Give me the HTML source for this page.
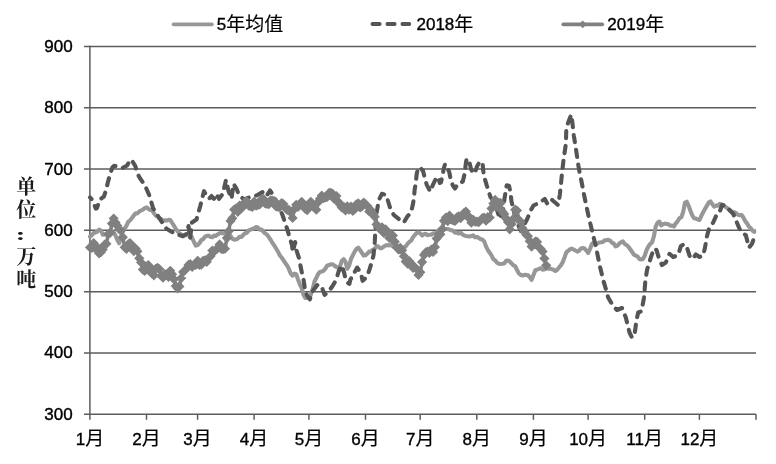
<!DOCTYPE html>
<html lang="zh"><head><meta charset="utf-8"><title>chart</title>
<style>html,body{margin:0;padding:0;background:#fff}svg{display:block;will-change:transform;filter:blur(0.3px)}</style></head>
<body>
<svg width="776" height="464" viewBox="0 0 776 464">
<rect width="776" height="464" fill="#ffffff"/>
<g stroke="#5c5c5c" stroke-width="1.5" fill="none">
<line x1="84" y1="46.4" x2="756.0" y2="46.4"/>
<line x1="84" y1="107.8" x2="756.0" y2="107.8"/>
<line x1="84" y1="169.1" x2="756.0" y2="169.1"/>
<line x1="84" y1="230.3" x2="756.0" y2="230.3"/>
<line x1="84" y1="291.7" x2="756.0" y2="291.7"/>
<line x1="84" y1="353.0" x2="756.0" y2="353.0"/>
<line x1="84" y1="414.3" x2="756.0" y2="414.3"/>
<line x1="89.9" y1="45.7" x2="89.9" y2="414.3"/>
<line x1="89.9" y1="414.3" x2="89.9" y2="419.8"/>
<line x1="146.5" y1="414.3" x2="146.5" y2="419.8"/>
<line x1="197.6" y1="414.3" x2="197.6" y2="419.8"/>
<line x1="254.1" y1="414.3" x2="254.1" y2="419.8"/>
<line x1="308.9" y1="414.3" x2="308.9" y2="419.8"/>
<line x1="365.5" y1="414.3" x2="365.5" y2="419.8"/>
<line x1="420.2" y1="414.3" x2="420.2" y2="419.8"/>
<line x1="476.8" y1="414.3" x2="476.8" y2="419.8"/>
<line x1="533.4" y1="414.3" x2="533.4" y2="419.8"/>
<line x1="588.1" y1="414.3" x2="588.1" y2="419.8"/>
<line x1="644.7" y1="414.3" x2="644.7" y2="419.8"/>
<line x1="699.4" y1="414.3" x2="699.4" y2="419.8"/>
<line x1="756.0" y1="414.3" x2="756.0" y2="419.8"/>
</g>
<g font-family="Liberation Sans, sans-serif" font-size="17px" fill="#000" stroke="#000" stroke-width="0.4" text-anchor="end">
<text x="72.7" y="51.8">900</text>
<text x="72.7" y="113.2">800</text>
<text x="72.7" y="174.5">700</text>
<text x="72.7" y="235.8">600</text>
<text x="72.7" y="297.1">500</text>
<text x="72.7" y="358.4">400</text>
<text x="72.7" y="419.7">300</text>
</g>
<g fill="#000" stroke="#000" stroke-width="0.35" text-anchor="middle">
<text x="89.9" y="444.9" font-family="Liberation Sans, Noto Sans CJK SC, sans-serif" font-size="17px">1<tspan dy="0.4" stroke-width="0.15" font-size="19px" font-family="Noto Sans CJK SC, sans-serif">月</tspan></text>
<text x="146.5" y="444.9" font-family="Liberation Sans, Noto Sans CJK SC, sans-serif" font-size="17px">2<tspan dy="0.4" stroke-width="0.15" font-size="19px" font-family="Noto Sans CJK SC, sans-serif">月</tspan></text>
<text x="197.6" y="444.9" font-family="Liberation Sans, Noto Sans CJK SC, sans-serif" font-size="17px">3<tspan dy="0.4" stroke-width="0.15" font-size="19px" font-family="Noto Sans CJK SC, sans-serif">月</tspan></text>
<text x="254.1" y="444.9" font-family="Liberation Sans, Noto Sans CJK SC, sans-serif" font-size="17px">4<tspan dy="0.4" stroke-width="0.15" font-size="19px" font-family="Noto Sans CJK SC, sans-serif">月</tspan></text>
<text x="308.9" y="444.9" font-family="Liberation Sans, Noto Sans CJK SC, sans-serif" font-size="17px">5<tspan dy="0.4" stroke-width="0.15" font-size="19px" font-family="Noto Sans CJK SC, sans-serif">月</tspan></text>
<text x="365.5" y="444.9" font-family="Liberation Sans, Noto Sans CJK SC, sans-serif" font-size="17px">6<tspan dy="0.4" stroke-width="0.15" font-size="19px" font-family="Noto Sans CJK SC, sans-serif">月</tspan></text>
<text x="420.2" y="444.9" font-family="Liberation Sans, Noto Sans CJK SC, sans-serif" font-size="17px">7<tspan dy="0.4" stroke-width="0.15" font-size="19px" font-family="Noto Sans CJK SC, sans-serif">月</tspan></text>
<text x="476.8" y="444.9" font-family="Liberation Sans, Noto Sans CJK SC, sans-serif" font-size="17px">8<tspan dy="0.4" stroke-width="0.15" font-size="19px" font-family="Noto Sans CJK SC, sans-serif">月</tspan></text>
<text x="533.4" y="444.9" font-family="Liberation Sans, Noto Sans CJK SC, sans-serif" font-size="17px">9<tspan dy="0.4" stroke-width="0.15" font-size="19px" font-family="Noto Sans CJK SC, sans-serif">月</tspan></text>
<text x="588.1" y="444.9" font-family="Liberation Sans, Noto Sans CJK SC, sans-serif" font-size="17px">10<tspan dy="0.4" stroke-width="0.15" font-size="19px" font-family="Noto Sans CJK SC, sans-serif">月</tspan></text>
<text x="644.7" y="444.9" font-family="Liberation Sans, Noto Sans CJK SC, sans-serif" font-size="17px">11<tspan dy="0.4" stroke-width="0.15" font-size="19px" font-family="Noto Sans CJK SC, sans-serif">月</tspan></text>
<text x="699.4" y="444.9" font-family="Liberation Sans, Noto Sans CJK SC, sans-serif" font-size="17px">12<tspan dy="0.4" stroke-width="0.15" font-size="19px" font-family="Noto Sans CJK SC, sans-serif">月</tspan></text>
</g>
<polyline points="90.0,236.6 91.8,235.1 93.6,233.0 95.5,232.5 97.3,231.6 99.1,229.5 100.9,230.5 102.8,234.7 104.6,234.4 106.4,234.0 108.2,234.8 110.1,232.9 111.9,232.9 113.7,232.4 115.5,235.5 117.4,240.0 119.2,243.3 121.0,237.1 122.8,231.5 124.7,228.6 126.5,225.6 128.3,221.6 130.1,220.3 132.0,218.0 133.8,215.4 135.6,213.3 137.4,213.4 139.3,211.4 141.1,210.5 142.9,209.6 144.7,208.2 146.6,207.4 148.4,208.9 150.2,210.1 152.0,209.7 153.9,213.2 155.7,215.6 157.5,216.4 159.3,218.4 161.2,219.0 163.0,220.8 164.8,220.3 166.6,220.6 168.5,219.8 170.3,220.1 172.1,222.8 173.9,225.6 175.8,228.8 177.6,231.4 179.4,233.4 181.2,234.3 183.1,235.7 184.9,235.3 186.7,235.2 188.5,234.4 190.4,234.8 192.2,238.1 194.0,242.0 195.8,245.6 197.7,245.0 199.5,243.1 201.3,240.1 203.1,239.2 205.0,236.7 206.8,235.9 208.6,235.5 210.4,236.9 212.3,237.1 214.1,235.5 215.9,235.9 217.7,234.4 219.6,233.2 221.4,232.9 223.2,233.2 225.0,233.7 226.9,233.1 228.7,235.1 230.5,235.7 232.3,238.7 234.2,239.6 236.0,239.5 237.8,238.6 239.6,236.8 241.5,236.9 243.3,234.9 245.1,233.3 246.9,232.8 248.8,230.3 250.6,229.6 252.4,228.9 254.2,228.3 256.1,227.1 257.9,227.5 259.7,229.6 261.5,229.5 263.4,231.7 265.2,233.4 267.0,234.6 268.8,237.2 270.7,240.0 272.5,243.0 274.3,245.6 276.1,248.5 278.0,251.7 279.8,255.3 281.6,257.5 283.4,260.1 285.3,263.1 287.1,265.5 288.9,268.9 290.7,273.4 292.6,275.7 294.4,273.6 296.2,274.2 298.0,279.5 299.9,284.3 301.7,288.1 303.5,294.7 305.3,298.0 307.2,297.7 309.0,297.7 310.8,294.8 312.6,289.4 314.5,281.5 316.3,278.0 318.1,274.1 319.9,271.9 321.8,271.6 323.6,270.7 325.4,268.6 327.2,265.7 329.1,265.0 330.9,264.3 332.7,264.2 334.5,265.7 336.4,267.0 338.2,267.8 340.0,266.4 341.8,260.8 343.7,259.2 345.5,261.8 347.3,268.7 349.1,265.7 351.0,259.0 352.8,255.3 354.6,251.9 356.4,248.9 358.3,247.6 360.1,250.1 361.9,252.9 363.7,255.6 365.6,255.3 367.4,253.6 369.2,251.6 371.0,251.4 372.9,249.6 374.7,248.8 376.5,246.0 378.3,246.5 380.2,248.3 382.0,248.0 383.8,246.6 385.6,245.5 387.5,245.0 389.3,245.4 391.1,244.7 392.9,246.3 394.8,246.8 396.6,245.9 398.4,246.3 400.2,247.5 402.1,247.4 403.9,247.9 405.7,246.4 407.5,243.8 409.4,241.9 411.2,240.6 413.0,237.3 414.8,235.1 416.7,232.9 418.5,232.4 420.3,233.5 422.1,235.5 424.0,234.2 425.8,233.7 427.6,235.2 429.4,234.8 431.3,234.8 433.1,233.4 434.9,233.5 436.7,232.7 438.6,230.6 440.4,230.8 442.2,230.3 444.0,229.4 445.9,229.0 447.7,229.0 449.5,229.6 451.3,230.2 453.2,230.8 455.0,232.7 456.8,232.4 458.6,233.6 460.5,232.5 462.3,234.3 464.1,235.4 465.9,236.0 467.8,236.2 469.6,236.5 471.4,236.1 473.2,235.3 475.1,237.3 476.9,236.9 478.7,237.8 480.5,239.2 482.4,239.6 484.2,241.4 486.0,246.4 487.8,250.0 489.7,252.7 491.5,255.3 493.3,259.1 495.1,260.3 497.0,262.7 498.8,263.8 500.6,264.1 502.4,263.8 504.3,263.4 506.1,260.8 507.9,260.5 509.7,261.6 511.6,263.4 513.4,265.4 515.2,266.1 517.0,270.1 518.9,273.5 520.7,274.9 522.5,275.4 524.3,274.9 526.2,274.9 528.0,275.2 529.8,277.3 531.6,279.8 533.5,274.9 535.3,270.2 537.1,269.6 538.9,268.9 540.8,268.1 542.6,269.6 544.4,269.4 546.2,268.0 548.1,268.8 549.9,268.5 551.7,269.1 553.5,269.7 555.4,270.9 557.2,269.8 559.0,267.5 560.8,265.4 562.7,262.2 564.5,257.5 566.3,252.4 568.1,250.9 570.0,249.2 571.8,248.6 573.6,249.5 575.4,250.5 577.3,251.6 579.1,250.6 580.9,248.6 582.7,248.1 584.6,248.6 586.4,250.6 588.2,252.9 590.0,249.0 591.9,244.0 593.7,242.7 595.5,243.7 597.3,243.6 599.2,242.5 601.0,242.3 602.8,241.9 604.6,240.2 606.5,240.3 608.3,239.8 610.1,240.6 611.9,242.6 613.8,243.6 615.6,246.5 617.4,245.7 619.2,243.4 621.1,242.3 622.9,241.3 624.7,243.9 626.5,245.0 628.4,246.8 630.2,249.3 632.0,251.8 633.8,254.5 635.7,255.7 637.5,256.4 639.3,258.9 641.1,259.4 643.0,258.9 644.8,255.5 646.6,250.0 648.4,246.5 650.3,243.8 652.1,242.4 653.9,236.2 655.7,226.7 657.6,222.7 659.4,221.6 661.2,225.4 663.0,224.2 664.9,223.6 666.7,223.9 668.5,224.3 670.3,225.8 672.2,225.5 674.0,226.5 675.8,223.4 677.6,221.3 679.5,218.1 681.3,217.4 683.1,212.3 684.9,202.8 686.8,201.7 688.6,205.8 690.4,210.8 692.2,215.2 694.1,218.3 695.9,218.6 697.7,219.5 699.5,219.9 701.4,215.8 703.2,212.3 705.0,208.9 706.8,205.7 708.7,202.6 710.5,201.5 712.3,204.1 714.1,206.7 716.0,205.6 717.8,205.6 719.6,203.9 721.4,204.3 723.3,205.3 725.1,206.6 726.9,207.9 728.7,209.3 730.6,210.9 732.4,212.4 734.2,212.2 736.0,213.1 737.9,214.6 739.7,215.3 741.5,214.9 743.3,217.3 745.2,221.1 747.0,223.4 748.8,226.4 750.6,228.1 752.5,230.6 754.3,231.9" fill="none" stroke="#979797" stroke-width="4.1" stroke-linejoin="round" stroke-linecap="round"/>
<polyline points="90.0,197.4 92.2,199.7 94.0,204.0 95.8,208.6 96.9,208.2 99.7,199.7 103.9,196.6 106.5,188.8 107.8,182.5 110.2,173.8 112.4,167.5 114.0,165.8 119.4,166.8 122.5,167.9 127.1,165.5 128.5,163.0 130.3,159.6 132.6,161.6 135.4,166.3 137.2,173.3 140.3,178.7 144.7,184.9 148.9,194.3 150.4,198.9 153.1,208.2 155.9,212.9 160.5,219.9 166.5,228.8 175.2,233.8 182.8,236.2 186.5,233.8 188.5,226.0 190.0,238.8 192.0,222.5 196.5,219.5 200.2,206.2 204.0,191.2 206.5,196.0 209.0,198.8 211.5,196.0 214.0,198.8 216.5,193.8 219.0,198.8 222.8,193.8 226.0,180.0 228.5,191.0 231.5,198.8 233.5,183.8 236.5,188.8 239.0,195.0 244.0,199.5 250.0,197.0 256.5,195.5 262.8,192.0 266.5,196.0 270.0,190.5 273.8,196.2 278.0,205.0 282.5,215.0 286.2,226.0 288.9,235.0 292.0,245.1 292.8,252.1 294.0,247.0 295.1,242.0 296.6,250.5 299.0,258.3 300.5,266.0 302.1,273.8 303.6,280.0 305.2,290.9 307.5,296.3 309.8,299.4 312.2,291.7 317.6,284.7 321.5,286.2 324.6,294.8 326.5,293.5 328.5,291.7 332.4,286.2 336.2,280.0 338.6,271.5 341.7,265.3 344.0,272.3 345.6,279.3 347.5,282.5 349.4,283.9 350.2,280.0 354.1,273.0 357.2,267.6 358.8,270.0 361.1,273.8 362.6,280.8 365.0,278.5 367.3,276.1 369.6,269.2 372.0,261.4 373.5,255.2 374.3,247.4 374.8,241.2 375.1,235.0 375.6,226.0 376.2,215.0 378.8,200.0 382.0,193.8 386.2,195.0 390.0,207.5 393.8,215.0 400.0,220.0 403.8,222.5 407.5,216.2 409.7,214.0 411.2,211.8 412.8,204.8 414.0,197.8 414.6,190.0 415.9,182.3 416.6,174.5 418.2,168.0 420.0,167.5 422.9,170.6 424.9,178.4 426.7,184.6 430.2,191.6 433.0,184.6 436.8,176.8 438.5,178.0 439.8,183.0 441.0,182.3 442.7,174.5 443.8,168.3 445.1,164.0 446.5,166.0 449.3,172.2 450.8,180.0 453.1,186.1 455.0,188.5 457.8,183.8 460.5,182.5 462.8,181.5 464.8,173.0 465.6,165.2 466.6,158.7 468.0,160.0 469.4,162.0 471.0,169.0 471.8,170.6 473.3,173.5 474.9,173.0 477.2,166.0 479.0,163.0 481.1,162.0 482.6,162.0 483.1,169.8 484.2,176.8 486.5,184.6 488.5,190.8 490.4,197.0 493.5,201.0 497.0,210.0 499.8,218.8 503.2,209.0 504.4,199.3 505.9,190.0 506.7,185.4 509.0,185.7 510.6,193.0 511.4,200.9 512.9,207.0 516.0,220.0 521.0,231.2 523.5,226.0 527.2,219.0 531.0,210.0 533.5,205.5 539.8,202.5 544.8,199.0 547.2,203.5 551.0,199.0 554.5,202.0 558.0,205.0 559.8,195.0 561.0,184.0 562.0,173.3 563.6,159.3 565.9,143.8 566.3,128.3 568.2,122.5 571.2,114.6 572.3,122.1 573.9,136.0 576.1,150.0 578.4,165.6 580.0,174.9 581.2,180.0 584.5,197.0 588.5,216.0 592.2,231.5 596.0,247.0 599.8,266.0 603.5,281.0 605.8,288.8 608.2,297.5 613.2,306.2 617.0,310.0 622.0,308.0 625.8,317.5 629.5,332.5 632.0,337.5 634.5,335.0 636.5,320.0 638.2,312.5 641.5,311.2 644.0,297.5 645.2,282.5 647.0,270.0 650.8,257.5 654.0,248.5 656.5,250.0 659.5,260.0 662.0,265.0 665.8,262.5 669.5,253.8 673.2,257.0 678.2,255.0 680.8,246.2 684.0,244.0 686.8,247.0 689.8,256.5 692.5,259.0 695.8,254.5 699.5,257.0 703.2,255.5 705.0,247.5 707.0,236.0 709.5,227.0 713.2,222.5 717.0,213.8 719.5,212.5 722.0,205.0 725.8,205.8 729.5,210.0 733.2,213.8 735.8,220.0 739.5,228.8 743.2,233.8 745.8,235.0 749.0,247.5 752.0,243.8 754.5,236.5 755.8,239.0" fill="none" stroke="#555555" stroke-width="4.1" stroke-linejoin="round" stroke-linecap="round" stroke-dasharray="7.3 7.7" stroke-dashoffset="5"/>
<polyline points="90.0,247.4 91.8,247.9 93.6,243.1 95.5,248.7 97.3,247.4 99.1,253.3 100.9,252.2 102.8,249.5 104.6,244.7 106.4,243.8 108.2,234.1 110.1,232.8 111.9,223.5 113.7,218.5 115.5,222.5 117.4,225.8 119.2,229.2 121.0,230.6 122.8,237.3 124.7,247.3 126.5,248.9 128.3,244.2 130.1,243.2 132.0,245.1 133.8,251.1 135.6,248.6 137.4,251.3 139.3,258.3 141.1,262.4 142.9,269.6 144.7,270.9 146.6,266.3 148.4,265.2 150.2,267.3 152.0,273.7 153.9,275.3 155.7,268.8 157.5,267.8 159.3,269.1 161.2,275.9 163.0,277.6 164.8,274.1 166.6,274.4 168.5,277.0 170.3,270.8 172.1,274.3 173.9,279.2 175.8,286.1 177.6,288.3 179.4,286.4 181.2,278.1 183.1,272.1 184.9,270.3 186.7,268.4 188.5,264.9 190.4,264.2 192.2,267.0 194.0,265.2 195.8,264.9 197.7,260.8 199.5,265.0 201.3,264.7 203.1,260.8 205.0,260.3 206.8,261.8 208.6,258.2 210.4,256.3 212.3,250.5 214.1,251.6 215.9,249.7 217.7,248.3 219.6,244.4 221.4,249.0 223.2,249.1 225.0,248.7 226.9,238.1 228.7,231.2 230.5,221.0 232.3,218.2 234.2,209.6 236.0,208.7 237.8,211.8 239.6,205.5 241.5,208.3 243.3,206.5 245.1,201.9 246.9,201.5 248.8,205.7 250.6,206.2 252.4,206.8 254.2,201.7 256.1,205.7 257.9,205.0 259.7,204.4 261.5,199.3 263.4,198.9 265.2,203.5 267.0,203.8 268.8,204.1 270.7,200.3 272.5,200.7 274.3,201.1 276.1,206.4 278.0,206.8 279.8,207.1 281.6,203.1 283.4,204.0 285.3,207.9 287.1,209.8 288.9,209.8 290.7,212.3 292.6,217.9 294.4,209.0 296.2,204.8 298.0,207.0 299.9,203.9 301.7,201.8 303.5,203.5 305.3,208.8 307.2,210.1 309.0,203.6 310.8,201.8 312.6,206.1 314.5,208.0 316.3,209.7 318.1,202.3 319.9,198.8 321.8,195.6 323.6,198.1 325.4,197.4 327.2,196.9 329.1,192.9 330.9,192.8 332.7,193.9 334.5,199.2 336.4,196.0 338.2,201.7 340.0,204.6 341.8,207.5 343.7,206.8 345.5,210.4 347.3,206.3 349.1,209.6 351.0,206.6 352.8,210.8 354.6,209.5 356.4,204.4 358.3,203.3 360.1,207.5 361.9,206.5 363.7,202.5 365.6,204.2 367.4,206.1 369.2,211.4 371.0,210.3 372.9,213.5 374.7,216.7 376.5,224.5 378.3,226.6 380.2,229.5 382.0,227.3 383.8,232.9 385.6,229.4 387.5,231.9 389.3,237.9 391.1,234.1 392.9,235.6 394.8,241.7 396.6,247.5 398.4,249.3 400.2,247.8 402.1,250.3 403.9,256.2 405.7,261.6 407.5,263.6 409.4,261.2 411.2,263.7 413.0,267.8 414.8,267.2 416.7,269.1 418.5,274.9 420.3,272.3 422.1,262.1 424.0,255.1 425.8,252.4 427.6,251.5 429.4,252.8 431.3,249.5 433.1,251.9 434.9,247.1 436.7,238.6 438.6,234.4 440.4,234.3 442.2,229.1 444.0,220.8 445.9,217.5 447.7,221.1 449.5,215.6 451.3,219.5 453.2,220.3 455.0,220.9 456.8,217.4 458.6,216.3 460.5,218.2 462.3,215.5 464.1,212.8 465.9,211.6 467.8,215.4 469.6,218.7 471.4,222.7 473.2,219.8 475.1,221.7 476.9,221.6 478.7,222.2 480.5,220.0 482.4,218.2 484.2,217.7 486.0,220.7 487.8,217.0 489.7,217.6 491.5,208.4 493.3,203.5 495.1,199.9 497.0,206.7 498.8,202.8 500.6,203.1 502.4,211.6 504.3,214.1 506.1,218.4 507.9,222.0 509.7,229.3 511.6,224.0 513.4,218.8 515.2,209.7 517.0,210.5 518.9,219.8 520.7,221.9 522.5,228.2 524.3,231.4 526.2,234.7 528.0,236.2 529.8,241.2 531.6,246.6 533.5,244.6 535.3,241.5 537.1,241.9 538.9,247.2 540.8,249.1 542.6,251.4 544.4,258.5 546.2,265.3" fill="none" stroke="#808080" stroke-width="3.6" stroke-linejoin="round" stroke-linecap="round"/>
<path d="M90.0 242.3l5.1 5.1l-5.1 5.1l-5.1 -5.1zM91.8 242.8l5.1 5.1l-5.1 5.1l-5.1 -5.1zM93.6 238.0l5.1 5.1l-5.1 5.1l-5.1 -5.1zM95.5 243.6l5.1 5.1l-5.1 5.1l-5.1 -5.1zM97.3 242.3l5.1 5.1l-5.1 5.1l-5.1 -5.1zM99.1 248.2l5.1 5.1l-5.1 5.1l-5.1 -5.1zM100.9 247.1l5.1 5.1l-5.1 5.1l-5.1 -5.1zM102.8 244.4l5.1 5.1l-5.1 5.1l-5.1 -5.1zM104.6 239.6l5.1 5.1l-5.1 5.1l-5.1 -5.1zM106.4 238.7l5.1 5.1l-5.1 5.1l-5.1 -5.1zM108.2 229.0l5.1 5.1l-5.1 5.1l-5.1 -5.1zM110.1 227.7l5.1 5.1l-5.1 5.1l-5.1 -5.1zM111.9 218.4l5.1 5.1l-5.1 5.1l-5.1 -5.1zM113.7 213.4l5.1 5.1l-5.1 5.1l-5.1 -5.1zM115.5 217.4l5.1 5.1l-5.1 5.1l-5.1 -5.1zM117.4 220.7l5.1 5.1l-5.1 5.1l-5.1 -5.1zM119.2 224.1l5.1 5.1l-5.1 5.1l-5.1 -5.1zM121.0 225.5l5.1 5.1l-5.1 5.1l-5.1 -5.1zM122.8 232.2l5.1 5.1l-5.1 5.1l-5.1 -5.1zM124.7 242.2l5.1 5.1l-5.1 5.1l-5.1 -5.1zM126.5 243.8l5.1 5.1l-5.1 5.1l-5.1 -5.1zM128.3 239.1l5.1 5.1l-5.1 5.1l-5.1 -5.1zM130.1 238.1l5.1 5.1l-5.1 5.1l-5.1 -5.1zM132.0 240.0l5.1 5.1l-5.1 5.1l-5.1 -5.1zM133.8 246.0l5.1 5.1l-5.1 5.1l-5.1 -5.1zM135.6 243.5l5.1 5.1l-5.1 5.1l-5.1 -5.1zM137.4 246.2l5.1 5.1l-5.1 5.1l-5.1 -5.1zM139.3 253.2l5.1 5.1l-5.1 5.1l-5.1 -5.1zM141.1 257.3l5.1 5.1l-5.1 5.1l-5.1 -5.1zM142.9 264.5l5.1 5.1l-5.1 5.1l-5.1 -5.1zM144.7 265.8l5.1 5.1l-5.1 5.1l-5.1 -5.1zM146.6 261.2l5.1 5.1l-5.1 5.1l-5.1 -5.1zM148.4 260.1l5.1 5.1l-5.1 5.1l-5.1 -5.1zM150.2 262.2l5.1 5.1l-5.1 5.1l-5.1 -5.1zM152.0 268.6l5.1 5.1l-5.1 5.1l-5.1 -5.1zM153.9 270.2l5.1 5.1l-5.1 5.1l-5.1 -5.1zM155.7 263.7l5.1 5.1l-5.1 5.1l-5.1 -5.1zM157.5 262.7l5.1 5.1l-5.1 5.1l-5.1 -5.1zM159.3 264.0l5.1 5.1l-5.1 5.1l-5.1 -5.1zM161.2 270.8l5.1 5.1l-5.1 5.1l-5.1 -5.1zM163.0 272.5l5.1 5.1l-5.1 5.1l-5.1 -5.1zM164.8 269.0l5.1 5.1l-5.1 5.1l-5.1 -5.1zM166.6 269.3l5.1 5.1l-5.1 5.1l-5.1 -5.1zM168.5 271.9l5.1 5.1l-5.1 5.1l-5.1 -5.1zM170.3 265.7l5.1 5.1l-5.1 5.1l-5.1 -5.1zM172.1 269.2l5.1 5.1l-5.1 5.1l-5.1 -5.1zM173.9 274.1l5.1 5.1l-5.1 5.1l-5.1 -5.1zM175.8 281.0l5.1 5.1l-5.1 5.1l-5.1 -5.1zM177.6 283.2l5.1 5.1l-5.1 5.1l-5.1 -5.1zM179.4 281.3l5.1 5.1l-5.1 5.1l-5.1 -5.1zM181.2 273.0l5.1 5.1l-5.1 5.1l-5.1 -5.1zM183.1 267.0l5.1 5.1l-5.1 5.1l-5.1 -5.1zM184.9 265.2l5.1 5.1l-5.1 5.1l-5.1 -5.1zM186.7 263.3l5.1 5.1l-5.1 5.1l-5.1 -5.1zM188.5 259.8l5.1 5.1l-5.1 5.1l-5.1 -5.1zM190.4 259.1l5.1 5.1l-5.1 5.1l-5.1 -5.1zM192.2 261.9l5.1 5.1l-5.1 5.1l-5.1 -5.1zM194.0 260.1l5.1 5.1l-5.1 5.1l-5.1 -5.1zM195.8 259.8l5.1 5.1l-5.1 5.1l-5.1 -5.1zM197.7 255.7l5.1 5.1l-5.1 5.1l-5.1 -5.1zM199.5 259.9l5.1 5.1l-5.1 5.1l-5.1 -5.1zM201.3 259.6l5.1 5.1l-5.1 5.1l-5.1 -5.1zM203.1 255.7l5.1 5.1l-5.1 5.1l-5.1 -5.1zM205.0 255.2l5.1 5.1l-5.1 5.1l-5.1 -5.1zM206.8 256.7l5.1 5.1l-5.1 5.1l-5.1 -5.1zM208.6 253.1l5.1 5.1l-5.1 5.1l-5.1 -5.1zM210.4 251.2l5.1 5.1l-5.1 5.1l-5.1 -5.1zM212.3 245.4l5.1 5.1l-5.1 5.1l-5.1 -5.1zM214.1 246.5l5.1 5.1l-5.1 5.1l-5.1 -5.1zM215.9 244.6l5.1 5.1l-5.1 5.1l-5.1 -5.1zM217.7 243.2l5.1 5.1l-5.1 5.1l-5.1 -5.1zM219.6 239.3l5.1 5.1l-5.1 5.1l-5.1 -5.1zM221.4 243.9l5.1 5.1l-5.1 5.1l-5.1 -5.1zM223.2 244.0l5.1 5.1l-5.1 5.1l-5.1 -5.1zM225.0 243.6l5.1 5.1l-5.1 5.1l-5.1 -5.1zM226.9 233.0l5.1 5.1l-5.1 5.1l-5.1 -5.1zM228.7 226.1l5.1 5.1l-5.1 5.1l-5.1 -5.1zM230.5 215.9l5.1 5.1l-5.1 5.1l-5.1 -5.1zM232.3 213.1l5.1 5.1l-5.1 5.1l-5.1 -5.1zM234.2 204.5l5.1 5.1l-5.1 5.1l-5.1 -5.1zM236.0 203.6l5.1 5.1l-5.1 5.1l-5.1 -5.1zM237.8 206.7l5.1 5.1l-5.1 5.1l-5.1 -5.1zM239.6 200.4l5.1 5.1l-5.1 5.1l-5.1 -5.1zM241.5 203.2l5.1 5.1l-5.1 5.1l-5.1 -5.1zM243.3 201.4l5.1 5.1l-5.1 5.1l-5.1 -5.1zM245.1 196.8l5.1 5.1l-5.1 5.1l-5.1 -5.1zM246.9 196.4l5.1 5.1l-5.1 5.1l-5.1 -5.1zM248.8 200.6l5.1 5.1l-5.1 5.1l-5.1 -5.1zM250.6 201.1l5.1 5.1l-5.1 5.1l-5.1 -5.1zM252.4 201.7l5.1 5.1l-5.1 5.1l-5.1 -5.1zM254.2 196.6l5.1 5.1l-5.1 5.1l-5.1 -5.1zM256.1 200.6l5.1 5.1l-5.1 5.1l-5.1 -5.1zM257.9 199.9l5.1 5.1l-5.1 5.1l-5.1 -5.1zM259.7 199.3l5.1 5.1l-5.1 5.1l-5.1 -5.1zM261.5 194.2l5.1 5.1l-5.1 5.1l-5.1 -5.1zM263.4 193.8l5.1 5.1l-5.1 5.1l-5.1 -5.1zM265.2 198.4l5.1 5.1l-5.1 5.1l-5.1 -5.1zM267.0 198.7l5.1 5.1l-5.1 5.1l-5.1 -5.1zM268.8 199.0l5.1 5.1l-5.1 5.1l-5.1 -5.1zM270.7 195.2l5.1 5.1l-5.1 5.1l-5.1 -5.1zM272.5 195.6l5.1 5.1l-5.1 5.1l-5.1 -5.1zM274.3 196.0l5.1 5.1l-5.1 5.1l-5.1 -5.1zM276.1 201.3l5.1 5.1l-5.1 5.1l-5.1 -5.1zM278.0 201.7l5.1 5.1l-5.1 5.1l-5.1 -5.1zM279.8 202.0l5.1 5.1l-5.1 5.1l-5.1 -5.1zM281.6 198.0l5.1 5.1l-5.1 5.1l-5.1 -5.1zM283.4 198.9l5.1 5.1l-5.1 5.1l-5.1 -5.1zM285.3 202.8l5.1 5.1l-5.1 5.1l-5.1 -5.1zM287.1 204.7l5.1 5.1l-5.1 5.1l-5.1 -5.1zM288.9 204.7l5.1 5.1l-5.1 5.1l-5.1 -5.1zM290.7 207.2l5.1 5.1l-5.1 5.1l-5.1 -5.1zM292.6 212.8l5.1 5.1l-5.1 5.1l-5.1 -5.1zM294.4 203.9l5.1 5.1l-5.1 5.1l-5.1 -5.1zM296.2 199.7l5.1 5.1l-5.1 5.1l-5.1 -5.1zM298.0 201.9l5.1 5.1l-5.1 5.1l-5.1 -5.1zM299.9 198.8l5.1 5.1l-5.1 5.1l-5.1 -5.1zM301.7 196.7l5.1 5.1l-5.1 5.1l-5.1 -5.1zM303.5 198.4l5.1 5.1l-5.1 5.1l-5.1 -5.1zM305.3 203.7l5.1 5.1l-5.1 5.1l-5.1 -5.1zM307.2 205.0l5.1 5.1l-5.1 5.1l-5.1 -5.1zM309.0 198.5l5.1 5.1l-5.1 5.1l-5.1 -5.1zM310.8 196.7l5.1 5.1l-5.1 5.1l-5.1 -5.1zM312.6 201.0l5.1 5.1l-5.1 5.1l-5.1 -5.1zM314.5 202.9l5.1 5.1l-5.1 5.1l-5.1 -5.1zM316.3 204.6l5.1 5.1l-5.1 5.1l-5.1 -5.1zM318.1 197.2l5.1 5.1l-5.1 5.1l-5.1 -5.1zM319.9 193.7l5.1 5.1l-5.1 5.1l-5.1 -5.1zM321.8 190.5l5.1 5.1l-5.1 5.1l-5.1 -5.1zM323.6 193.0l5.1 5.1l-5.1 5.1l-5.1 -5.1zM325.4 192.3l5.1 5.1l-5.1 5.1l-5.1 -5.1zM327.2 191.8l5.1 5.1l-5.1 5.1l-5.1 -5.1zM329.1 187.8l5.1 5.1l-5.1 5.1l-5.1 -5.1zM330.9 187.7l5.1 5.1l-5.1 5.1l-5.1 -5.1zM332.7 188.8l5.1 5.1l-5.1 5.1l-5.1 -5.1zM334.5 194.1l5.1 5.1l-5.1 5.1l-5.1 -5.1zM336.4 190.9l5.1 5.1l-5.1 5.1l-5.1 -5.1zM338.2 196.6l5.1 5.1l-5.1 5.1l-5.1 -5.1zM340.0 199.5l5.1 5.1l-5.1 5.1l-5.1 -5.1zM341.8 202.4l5.1 5.1l-5.1 5.1l-5.1 -5.1zM343.7 201.7l5.1 5.1l-5.1 5.1l-5.1 -5.1zM345.5 205.3l5.1 5.1l-5.1 5.1l-5.1 -5.1zM347.3 201.2l5.1 5.1l-5.1 5.1l-5.1 -5.1zM349.1 204.5l5.1 5.1l-5.1 5.1l-5.1 -5.1zM351.0 201.5l5.1 5.1l-5.1 5.1l-5.1 -5.1zM352.8 205.7l5.1 5.1l-5.1 5.1l-5.1 -5.1zM354.6 204.4l5.1 5.1l-5.1 5.1l-5.1 -5.1zM356.4 199.3l5.1 5.1l-5.1 5.1l-5.1 -5.1zM358.3 198.2l5.1 5.1l-5.1 5.1l-5.1 -5.1zM360.1 202.4l5.1 5.1l-5.1 5.1l-5.1 -5.1zM361.9 201.4l5.1 5.1l-5.1 5.1l-5.1 -5.1zM363.7 197.4l5.1 5.1l-5.1 5.1l-5.1 -5.1zM365.6 199.1l5.1 5.1l-5.1 5.1l-5.1 -5.1zM367.4 201.0l5.1 5.1l-5.1 5.1l-5.1 -5.1zM369.2 206.3l5.1 5.1l-5.1 5.1l-5.1 -5.1zM371.0 205.2l5.1 5.1l-5.1 5.1l-5.1 -5.1zM372.9 208.4l5.1 5.1l-5.1 5.1l-5.1 -5.1zM374.7 211.6l5.1 5.1l-5.1 5.1l-5.1 -5.1zM376.5 219.4l5.1 5.1l-5.1 5.1l-5.1 -5.1zM378.3 221.5l5.1 5.1l-5.1 5.1l-5.1 -5.1zM380.2 224.4l5.1 5.1l-5.1 5.1l-5.1 -5.1zM382.0 222.2l5.1 5.1l-5.1 5.1l-5.1 -5.1zM383.8 227.8l5.1 5.1l-5.1 5.1l-5.1 -5.1zM385.6 224.3l5.1 5.1l-5.1 5.1l-5.1 -5.1zM387.5 226.8l5.1 5.1l-5.1 5.1l-5.1 -5.1zM389.3 232.8l5.1 5.1l-5.1 5.1l-5.1 -5.1zM391.1 229.0l5.1 5.1l-5.1 5.1l-5.1 -5.1zM392.9 230.5l5.1 5.1l-5.1 5.1l-5.1 -5.1zM394.8 236.6l5.1 5.1l-5.1 5.1l-5.1 -5.1zM396.6 242.4l5.1 5.1l-5.1 5.1l-5.1 -5.1zM398.4 244.2l5.1 5.1l-5.1 5.1l-5.1 -5.1zM400.2 242.7l5.1 5.1l-5.1 5.1l-5.1 -5.1zM402.1 245.2l5.1 5.1l-5.1 5.1l-5.1 -5.1zM403.9 251.1l5.1 5.1l-5.1 5.1l-5.1 -5.1zM405.7 256.5l5.1 5.1l-5.1 5.1l-5.1 -5.1zM407.5 258.5l5.1 5.1l-5.1 5.1l-5.1 -5.1zM409.4 256.1l5.1 5.1l-5.1 5.1l-5.1 -5.1zM411.2 258.6l5.1 5.1l-5.1 5.1l-5.1 -5.1zM413.0 262.7l5.1 5.1l-5.1 5.1l-5.1 -5.1zM414.8 262.1l5.1 5.1l-5.1 5.1l-5.1 -5.1zM416.7 264.0l5.1 5.1l-5.1 5.1l-5.1 -5.1zM418.5 269.8l5.1 5.1l-5.1 5.1l-5.1 -5.1zM420.3 267.2l5.1 5.1l-5.1 5.1l-5.1 -5.1zM422.1 257.0l5.1 5.1l-5.1 5.1l-5.1 -5.1zM424.0 250.0l5.1 5.1l-5.1 5.1l-5.1 -5.1zM425.8 247.3l5.1 5.1l-5.1 5.1l-5.1 -5.1zM427.6 246.4l5.1 5.1l-5.1 5.1l-5.1 -5.1zM429.4 247.7l5.1 5.1l-5.1 5.1l-5.1 -5.1zM431.3 244.4l5.1 5.1l-5.1 5.1l-5.1 -5.1zM433.1 246.8l5.1 5.1l-5.1 5.1l-5.1 -5.1zM434.9 242.0l5.1 5.1l-5.1 5.1l-5.1 -5.1zM436.7 233.5l5.1 5.1l-5.1 5.1l-5.1 -5.1zM438.6 229.3l5.1 5.1l-5.1 5.1l-5.1 -5.1zM440.4 229.2l5.1 5.1l-5.1 5.1l-5.1 -5.1zM442.2 224.0l5.1 5.1l-5.1 5.1l-5.1 -5.1zM444.0 215.7l5.1 5.1l-5.1 5.1l-5.1 -5.1zM445.9 212.4l5.1 5.1l-5.1 5.1l-5.1 -5.1zM447.7 216.0l5.1 5.1l-5.1 5.1l-5.1 -5.1zM449.5 210.5l5.1 5.1l-5.1 5.1l-5.1 -5.1zM451.3 214.4l5.1 5.1l-5.1 5.1l-5.1 -5.1zM453.2 215.2l5.1 5.1l-5.1 5.1l-5.1 -5.1zM455.0 215.8l5.1 5.1l-5.1 5.1l-5.1 -5.1zM456.8 212.3l5.1 5.1l-5.1 5.1l-5.1 -5.1zM458.6 211.2l5.1 5.1l-5.1 5.1l-5.1 -5.1zM460.5 213.1l5.1 5.1l-5.1 5.1l-5.1 -5.1zM462.3 210.4l5.1 5.1l-5.1 5.1l-5.1 -5.1zM464.1 207.7l5.1 5.1l-5.1 5.1l-5.1 -5.1zM465.9 206.5l5.1 5.1l-5.1 5.1l-5.1 -5.1zM467.8 210.3l5.1 5.1l-5.1 5.1l-5.1 -5.1zM469.6 213.6l5.1 5.1l-5.1 5.1l-5.1 -5.1zM471.4 217.6l5.1 5.1l-5.1 5.1l-5.1 -5.1zM473.2 214.7l5.1 5.1l-5.1 5.1l-5.1 -5.1zM475.1 216.6l5.1 5.1l-5.1 5.1l-5.1 -5.1zM476.9 216.5l5.1 5.1l-5.1 5.1l-5.1 -5.1zM478.7 217.1l5.1 5.1l-5.1 5.1l-5.1 -5.1zM480.5 214.9l5.1 5.1l-5.1 5.1l-5.1 -5.1zM482.4 213.1l5.1 5.1l-5.1 5.1l-5.1 -5.1zM484.2 212.6l5.1 5.1l-5.1 5.1l-5.1 -5.1zM486.0 215.6l5.1 5.1l-5.1 5.1l-5.1 -5.1zM487.8 211.9l5.1 5.1l-5.1 5.1l-5.1 -5.1zM489.7 212.5l5.1 5.1l-5.1 5.1l-5.1 -5.1zM491.5 203.3l5.1 5.1l-5.1 5.1l-5.1 -5.1zM493.3 198.4l5.1 5.1l-5.1 5.1l-5.1 -5.1zM495.1 194.8l5.1 5.1l-5.1 5.1l-5.1 -5.1zM497.0 201.6l5.1 5.1l-5.1 5.1l-5.1 -5.1zM498.8 197.7l5.1 5.1l-5.1 5.1l-5.1 -5.1zM500.6 198.0l5.1 5.1l-5.1 5.1l-5.1 -5.1zM502.4 206.5l5.1 5.1l-5.1 5.1l-5.1 -5.1zM504.3 209.0l5.1 5.1l-5.1 5.1l-5.1 -5.1zM506.1 213.3l5.1 5.1l-5.1 5.1l-5.1 -5.1zM507.9 216.9l5.1 5.1l-5.1 5.1l-5.1 -5.1zM509.7 224.2l5.1 5.1l-5.1 5.1l-5.1 -5.1zM511.6 218.9l5.1 5.1l-5.1 5.1l-5.1 -5.1zM513.4 213.7l5.1 5.1l-5.1 5.1l-5.1 -5.1zM515.2 204.6l5.1 5.1l-5.1 5.1l-5.1 -5.1zM517.0 205.4l5.1 5.1l-5.1 5.1l-5.1 -5.1zM518.9 214.7l5.1 5.1l-5.1 5.1l-5.1 -5.1zM520.7 216.8l5.1 5.1l-5.1 5.1l-5.1 -5.1zM522.5 223.1l5.1 5.1l-5.1 5.1l-5.1 -5.1zM524.3 226.3l5.1 5.1l-5.1 5.1l-5.1 -5.1zM526.2 229.6l5.1 5.1l-5.1 5.1l-5.1 -5.1zM528.0 231.1l5.1 5.1l-5.1 5.1l-5.1 -5.1zM529.8 236.1l5.1 5.1l-5.1 5.1l-5.1 -5.1zM531.6 241.5l5.1 5.1l-5.1 5.1l-5.1 -5.1zM533.5 239.5l5.1 5.1l-5.1 5.1l-5.1 -5.1zM535.3 236.4l5.1 5.1l-5.1 5.1l-5.1 -5.1zM537.1 236.8l5.1 5.1l-5.1 5.1l-5.1 -5.1zM538.9 242.1l5.1 5.1l-5.1 5.1l-5.1 -5.1zM540.8 244.0l5.1 5.1l-5.1 5.1l-5.1 -5.1zM542.6 246.3l5.1 5.1l-5.1 5.1l-5.1 -5.1zM544.4 253.4l5.1 5.1l-5.1 5.1l-5.1 -5.1zM546.2 260.2l5.1 5.1l-5.1 5.1l-5.1 -5.1z" fill="#808080"/>
<line x1="173.6" y1="24.3" x2="211.8" y2="24.3" stroke="#979797" stroke-width="3.8" stroke-linecap="round"/>
<line x1="372.4" y1="24" x2="409.3" y2="24" stroke="#555555" stroke-width="3.8" stroke-linecap="round" stroke-dasharray="7.3 7.7"/>
<line x1="563.3" y1="24.3" x2="602.2" y2="24.3" stroke="#808080" stroke-width="3.8" stroke-linecap="round"/>
<path d="M582.7 20.4l3.9 3.9l-3.9 3.9l-3.9 -3.9z" fill="#808080"/>
<text x="216.8" y="29.8" fill="#000" stroke="#000" stroke-width="0.35" font-family="Liberation Sans, Noto Sans CJK SC, sans-serif" font-size="17px">5<tspan dy="0.7" stroke-width="0.15" font-size="19px" font-family="Noto Sans CJK SC, sans-serif">年均值</tspan></text>
<text x="416.5" y="29.8" fill="#000" stroke="#000" stroke-width="0.35" font-family="Liberation Sans, Noto Sans CJK SC, sans-serif" font-size="17px">2018<tspan dy="0.7" stroke-width="0.15" font-size="19px" font-family="Noto Sans CJK SC, sans-serif">年</tspan></text>
<text x="607.3" y="29.8" fill="#000" stroke="#000" stroke-width="0.35" font-family="Liberation Sans, Noto Sans CJK SC, sans-serif" font-size="17px">2019<tspan dy="0.7" stroke-width="0.15" font-size="19px" font-family="Noto Sans CJK SC, sans-serif">年</tspan></text>
<g font-family="Noto Serif CJK SC, Noto Sans CJK SC, serif" font-weight="bold" font-size="20px" fill="#1a1a1a" text-anchor="middle">
<text x="26.3" y="193.5">单</text>
<text x="26.3" y="217.0">位</text>
<text x="26.3" y="264.0">万</text>
<text x="26.3" y="287.0">吨</text>
<text transform="translate(16.6,240.2) scale(1.7,1)" font-family="Noto Sans CJK SC, sans-serif" font-weight="900" font-size="13px" text-anchor="start">:</text>
</g>
</svg>
</body></html>
